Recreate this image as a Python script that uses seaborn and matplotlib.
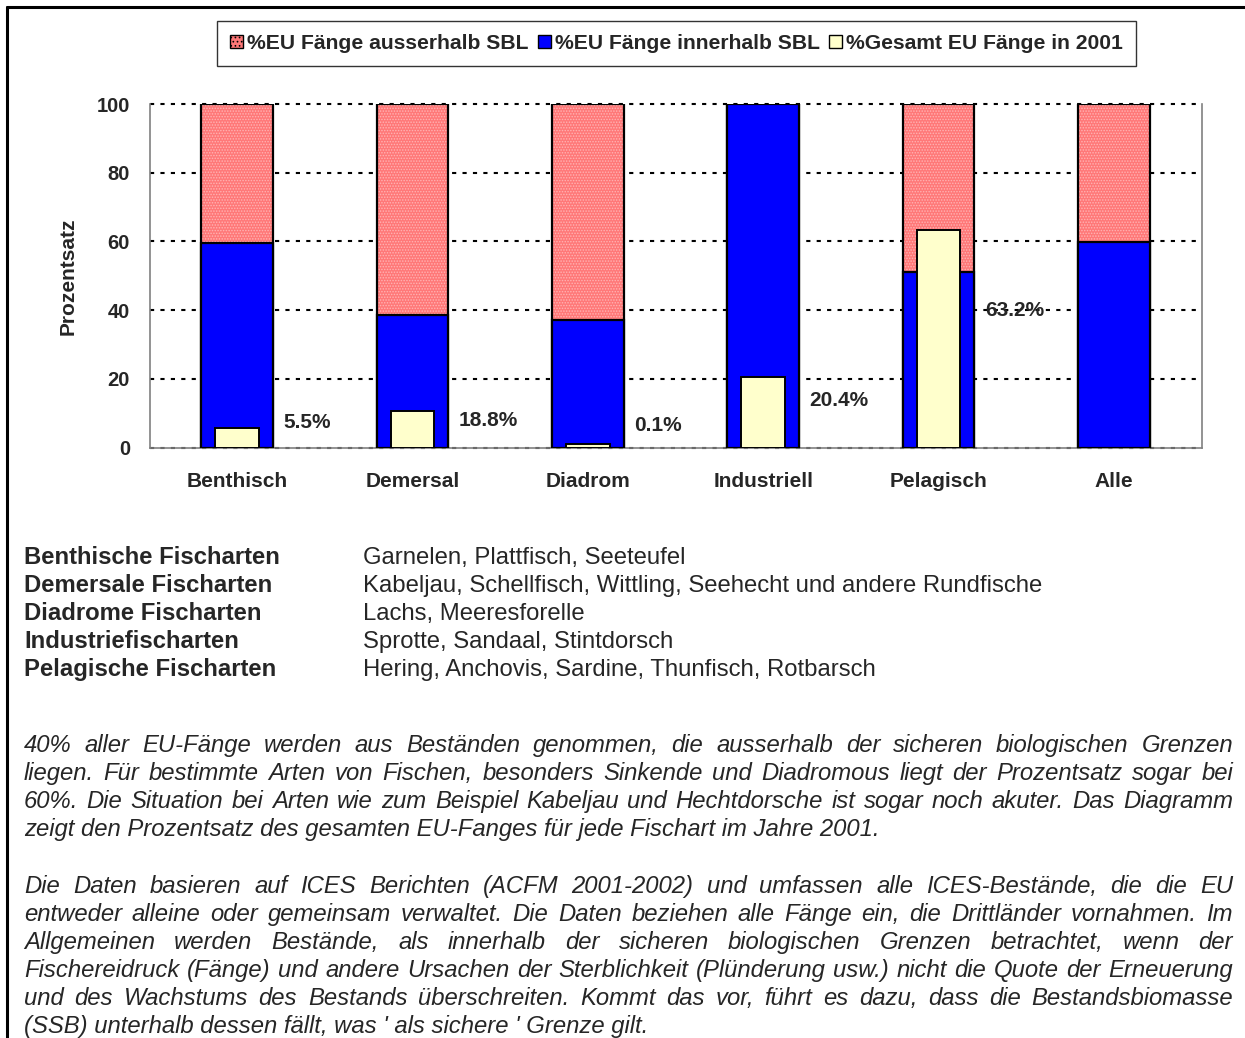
import numpy as np
import pandas as pd
import matplotlib
matplotlib.use("Agg")
import matplotlib.pyplot as plt
from matplotlib.patches import Patch
from matplotlib.lines import Line2D
import seaborn as sns

# ---------------- data ----------------
categories = ["Benthisch", "Demersal", "Diadrom", "Industriell", "Pelagisch", "Alle"]
inside_sbl = [59.6, 38.7, 37.2, 100.0, 51.2, 59.9]      # % EU Fänge innerhalb SBL
outside_sbl = [40.4, 61.3, 62.8, 0.0, 48.8, 40.1]      # % EU Fänge ausserhalb SBL
total_2001 = [5.6, 10.7, 1.0, 20.6, 63.4, 0.0]         # % Gesamt EU Fänge in 2001
value_labels = ["5.5%", "18.8%", "0.1%", "20.4%", "63.2%", ""]
value_label_y = [7.3, 7.8, 6.4, 13.7, 39.8, 0.0]
yticks = [0, 20, 40, 60, 80, 100]
legend_labels = ["%EU Fänge ausserhalb SBL", "%EU Fänge innerhalb SBL", "%Gesamt EU Fänge in 2001"]

desc_bold = ["Benthische Fischarten", "Demersale Fischarten", "Diadrome Fischarten",
             "Industriefischarten", "Pelagische Fischarten"]
desc_text = ["Garnelen, Plattfisch, Seeteufel",
             "Kabeljau, Schellfisch, Wittling, Seehecht und andere Rundfische",
             "Lachs, Meeresforelle",
             "Sprotte, Sandaal, Stintdorsch",
             "Hering, Anchovis, Sardine, Thunfisch, Rotbarsch"]

para1 = ["40% aller EU-Fänge werden aus Beständen genommen, die ausserhalb der sicheren biologischen Grenzen",
         "liegen. Für bestimmte Arten von Fischen, besonders Sinkende und Diadromous liegt der Prozentsatz sogar bei",
         "60%. Die Situation bei Arten wie zum Beispiel Kabeljau und Hechtdorsche ist sogar noch akuter. Das Diagramm",
         "zeigt den Prozentsatz des gesamten EU-Fanges für jede Fischart im Jahre 2001."]
para2 = ["Die Daten basieren auf ICES Berichten (ACFM 2001-2002) und umfassen alle ICES-Bestände, die die EU",
         "entweder alleine oder gemeinsam verwaltet. Die Daten beziehen alle Fänge ein, die Drittländer vornahmen. Im",
         "Allgemeinen werden Bestände, als innerhalb der sicheren biologischen Grenzen betrachtet, wenn der",
         "Fischereidruck (Fänge) und andere Ursachen der Sterblichkeit (Plünderung usw.) nicht die Quote der Erneuerung",
         "und des Wachstums des Bestands überschreiten. Kommt das vor, führt es dazu, dass die Bestandsbiomasse",
         "(SSB) unterhalb dessen fällt, was ' als sichere ' Grenze gilt."]

# ---------------- style ----------------
sns.set_theme(style="white")
plt.rcParams['font.family'] = ['Liberation Sans', 'DejaVu Sans']
plt.rcParams['hatch.linewidth'] = 0.7

RED = "#FF7878"
RED_DOTS = "#FFB4B4"
BLUE = "#0000FF"
YELLOW = "#FFFFCC"

W, H = 1245, 1038
fig = plt.figure(figsize=(W / 100, H / 100), dpi=100)
fig.patch.set_facecolor("white")

def fx(px):
    return px / W

def fy(py):
    return 1 - py / H

ax = fig.add_axes([fx(149.5), fy(447.5), fx(1201.5) - fx(149.5), fy(104) - fy(447.5)])

df = pd.DataFrame({"cat": categories,
                   "inside": inside_sbl,
                   "outside": outside_sbl,
                   "total": total_2001})
df["stack"] = df["inside"] + df["outside"]

ax.yaxis.grid(True, color="black", linestyle=(0, (2, 3)), linewidth=1.5, zorder=0)
ax.set_axisbelow(True)

# red (stack top) with dotted texture
sns.barplot(data=df, x="cat", y="stack", order=categories, color=RED, saturation=1,
            width=0.41, errorbar=None, ax=ax, hatch="......", edgecolor=RED_DOTS, linewidth=0)
# outlines of the full stack
n0 = len(ax.patches)
sns.barplot(data=df, x="cat", y="stack", order=categories, color=RED, saturation=1,
            width=0.41, errorbar=None, ax=ax)
for p in ax.patches[n0:]:
    p.set_facecolor("none")
    p.set_edgecolor("black")
    p.set_linewidth(1.6)
    p.set_zorder(3)
# blue (inside SBL)
n1 = len(ax.patches)
sns.barplot(data=df, x="cat", y="inside", order=categories, color=BLUE, saturation=1,
            width=0.41, errorbar=None, ax=ax, edgecolor="black", linewidth=1.6)
for p in ax.patches[n1:]:
    p.set_zorder(4)
# yellow (total 2001)
n2 = len(ax.patches)
sns.barplot(data=df, x="cat", y="total", order=categories, color=YELLOW, saturation=1,
            width=0.25, errorbar=None, ax=ax, edgecolor="black", linewidth=1.4)
for p in ax.patches[n2:]:
    p.set_zorder(5)
    if p.get_height() <= 0:
        p.set_visible(False)

for i, (lab, ly) in enumerate(zip(value_labels, value_label_y)):
    if lab:
        ax.text(i + 0.265, ly, lab, ha="left", va="center", fontsize=15,
                fontweight="bold", zorder=6)

ax.set_ylim(0, 100)
ax.set_xlim(-0.5, len(categories) - 0.5)
ax.set_yticks(yticks)
ax.set_xlabel("")
ax.set_ylabel("")
ax.tick_params(axis="both", length=0)
ax.tick_params(axis="y", pad=14, labelsize=14.5)
ax.tick_params(axis="x", pad=17.5, labelsize=15)
for t in ax.get_xticklabels() + ax.get_yticklabels():
    t.set_fontweight("bold")
for s in ax.spines.values():
    s.set_color("#808080")
    s.set_linewidth(1.2)
ax.spines["top"].set_visible(False)
for gl in ax.yaxis.get_gridlines():
    gl.set_clip_on(False)

fig.text(fx(68), fy(276), "Prozentsatz", rotation=90, ha="center", va="center",
         fontsize=15, fontweight="bold")

# legend
handles = [Patch(facecolor=RED, edgecolor="black", hatch="....", linewidth=1),
           Patch(facecolor=BLUE, edgecolor="black", linewidth=1),
           Patch(facecolor=YELLOW, edgecolor="black", linewidth=1)]
leg = fig.legend(handles, legend_labels, loc="center", bbox_to_anchor=(fx(676.5), fy(43.5)),
                 ncol=3, frameon=True, fancybox=False, edgecolor="black",
                 prop={"weight": "bold", "size": 15.2}, handlelength=0.6, handleheight=0.6,
                 handletextpad=0.2, columnspacing=0.45, borderpad=0.6, borderaxespad=0)
leg.get_frame().set_linewidth(1.0)

# outer frame (left and top)
fig.add_artist(Line2D([fx(7), fx(7)], [fy(7), 0], transform=fig.transFigure, color="black", lw=2.2))
fig.add_artist(Line2D([fx(7), 1], [fy(7), fy(7)], transform=fig.transFigure, color="black", lw=2.2))

# description table
FS = 17.2
BASE = 6.3  # centre -> baseline offset (px)
row_y = [558, 586, 614, 642, 670]
for b, t, yy in zip(desc_bold, desc_text, row_y):
    fig.text(fx(24), fy(yy + BASE), b, ha="left", va="baseline", fontsize=FS, fontweight="bold")
    fig.text(fx(363), fy(yy + BASE), t, ha="left", va="baseline", fontsize=FS)

# justified italic paragraphs
renderer = fig.canvas.get_renderer()
left_px, right_px = 24, 1233

def draw_paragraph(lines, y0):
    for k, line in enumerate(lines):
        yy = fy(y0 + 28 * k + BASE)
        last = (k == len(lines) - 1)
        if last:
            fig.text(fx(left_px), yy, line, ha="left", va="baseline", fontsize=FS, style="italic")
            continue
        words = line.split(" ")
        objs = [fig.text(0, yy, w, ha="left", va="baseline", fontsize=FS, style="italic") for w in words]
        widths = [o.get_window_extent(renderer).width for o in objs]
        gap = (right_px - left_px - sum(widths)) / (len(words) - 1)
        x = left_px
        for o, wd in zip(objs, widths):
            o.set_x(fx(x))
            x += wd + gap

draw_paragraph(para1, 746)
draw_paragraph(para2, 887)

fig.savefig("out.png", dpi=100, facecolor="white")
